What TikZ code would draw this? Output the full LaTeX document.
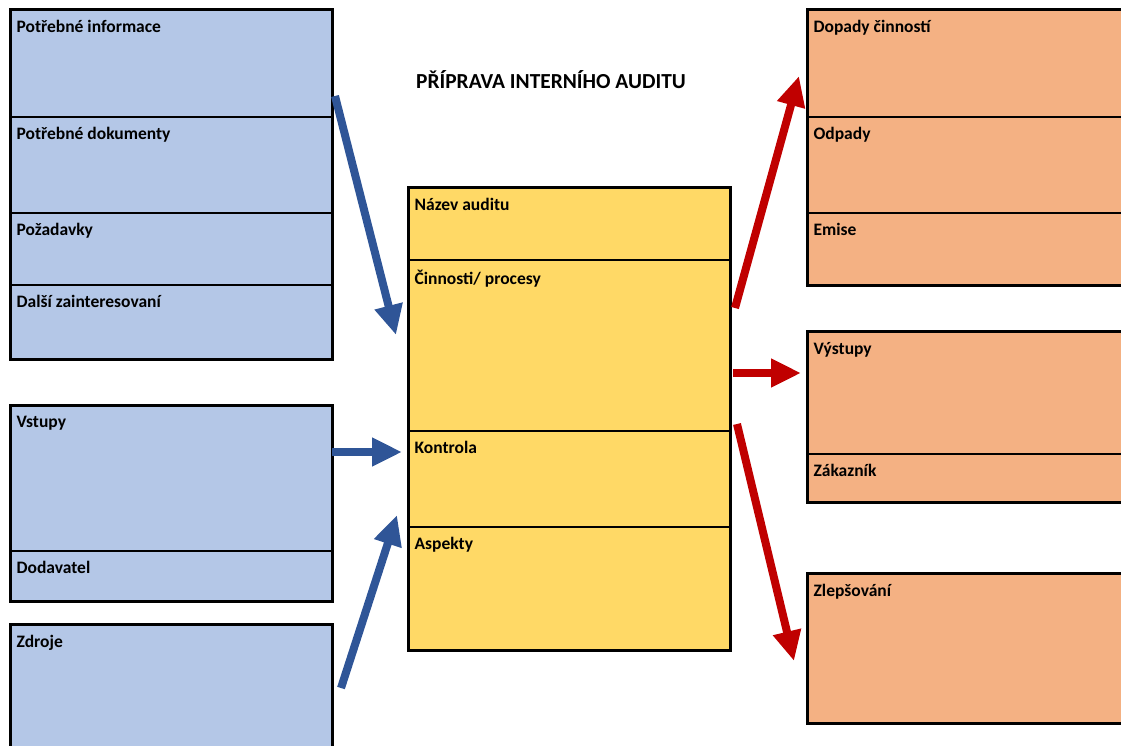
\documentclass[tikz,border=0pt]{standalone}
\usepackage{fontspec}
\setmainfont{Carlito}
\usetikzlibrary{arrows.meta,fit}
\definecolor{cellblue}{HTML}{B4C7E7}
\definecolor{cellyellow}{HTML}{FFD966}
\definecolor{cellorange}{HTML}{F4B183}
\definecolor{arrowblue}{HTML}{2F5597}
\definecolor{arrowred}{HTML}{C00000}
\tikzset{
  cellbox/.style={draw=black, line width=1.2pt, inner sep=0pt, rectangle},
  groupframe/.style={draw=black, line width=3pt, inner sep=0pt, rectangle},
  celltext/.style={anchor=north west, inner sep=0pt, font=\bfseries\fontsize{17.5}{20}\selectfont},
  titletext/.style={inner sep=0pt, font=\bfseries\fontsize{21.4}{24}\selectfont},
  flowarrow/.style={line width=8pt, -{Triangle[length=30pt,width=27pt]}},
}
% a cell: name, top-left corner, bottom-right corner, fill colour, label
\newcommand\cellat[5]{%
  \node[cellbox, fill=#4, fit={(#2) (#3)}] (#1) {};
  \node[celltext] (#1-t) at ([shift={(6,11)}]#1.north west) {#5};
}
\begin{document}
\begin{tikzpicture}[x=1pt,y=-1pt]
\useasboundingbox (0,0) rectangle (1121,745);
\clip (0,0) rectangle (1121,745);

% title
\node[titletext, anchor=west] (title) at (416,80) {PŘÍPRAVA INTERNÍHO AUDITU};

% left column: information group
\cellat{info}{11,10}{332,117}{cellblue}{Potřebné informace}
\cellat{docs}{11,117}{332,213}{cellblue}{Potřebné dokumenty}
\cellat{req}{11,213}{332,285}{cellblue}{Požadavky}
\cellat{stake}{11,285}{332,359}{cellblue}{Další zainteresovaní}
\node[groupframe, fit=(info)(docs)(req)(stake)] (leftA) {};

% left column: inputs
\cellat{inputs}{11,406}{332,551}{cellblue}{Vstupy}
\cellat{supplier}{11,551}{332,601}{cellblue}{Dodavatel}
\node[groupframe, fit=(inputs)(supplier)] (leftB) {};

% left column: resources
\cellat{resources}{11,625}{332,770}{cellblue}{Zdroje}
\node[groupframe, fit=(resources)] (leftC) {};

% centre column
\cellat{name}{409,188}{730,260}{cellyellow}{Název auditu}
\cellat{proc}{409,260}{730,431}{cellyellow}{Činnosti/ procesy}
\cellat{ctrl}{409,431}{730,527}{cellyellow}{Kontrola}
\cellat{asp}{409,527}{730,650}{cellyellow}{Aspekty}
\node[groupframe, fit=(name)(proc)(ctrl)(asp)] (centre) {};

% right column: impacts
\cellat{impact}{808,10}{1140,117}{cellorange}{Dopady činností}
\cellat{waste}{808,117}{1140,213}{cellorange}{Odpady}
\cellat{emis}{808,213}{1140,285}{cellorange}{Emise}
\node[groupframe, fit=(impact)(waste)(emis)] (rightA) {};

% right column: outputs
\cellat{outputs}{808,332}{1140,454}{cellorange}{Výstupy}
\cellat{customer}{808,454}{1140,502}{cellorange}{Zákazník}
\node[groupframe, fit=(outputs)(customer)] (rightB) {};

% right column: improvement
\cellat{improve}{808,574}{1140,723}{cellorange}{Zlepšování}
\node[groupframe, fit=(improve)] (rightC) {};

% arrow end points
\coordinate (b1s) at (335,96);   \coordinate (b1e) at (396,335);
\coordinate (b2s) at (332,452);  \coordinate (b2e) at (402,452);
\coordinate (b3s) at (341,688);  \coordinate (b3e) at (397,515);
\coordinate (r1s) at (735,308);  \coordinate (r1e) at (799,76);
\coordinate (r2s) at (733,373);  \coordinate (r2e) at (801,373);
\coordinate (r3s) at (737,424);  \coordinate (r3e) at (794,661);

% arrows into the audit
\draw[flowarrow, arrowblue] (b1s) -- (b1e);
\draw[flowarrow, arrowblue] (b2s) -- (b2e);
\draw[flowarrow, arrowblue] (b3s) -- (b3e);

% arrows out of the audit
\draw[flowarrow, arrowred] (r1s) -- (r1e);
\draw[flowarrow, arrowred] (r2s) -- (r2e);
\draw[flowarrow, arrowred] (r3s) -- (r3e);
\end{tikzpicture}
\end{document}
